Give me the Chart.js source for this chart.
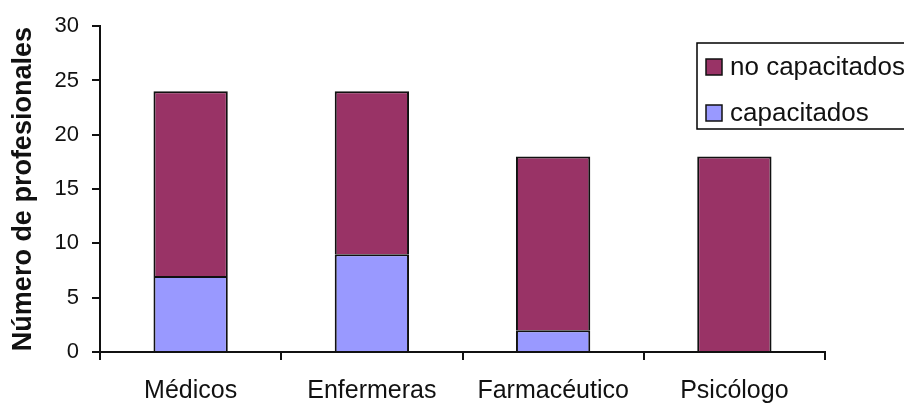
<!DOCTYPE html>
<html>
<head>
<meta charset="utf-8">
<script src="https://cdn.jsdelivr.net/npm/chart.js@4"></script>
<style>
  html, body { margin: 0; padding: 0; background: #fff; }
  #wrap { width: 904px; height: 403px; position: relative; }
</style>
</head>
<body>
<div id="wrap"><canvas id="c"></canvas></div>
<script>
// Staff by profession, split by training status
const categories = ['Médicos', 'Enfermeras', 'Farmacéutico', 'Psicólogo'];
const capacitados = [7, 9, 2, 0];
const noCapacitados = [17, 15, 16, 18];
const seriesLabels = ['capacitados', 'no capacitados'];
const yTicks = [0, 5, 10, 15, 20, 25, 30];
const yTitle = 'Número de profesionales';

const colCapacitados = '#9999FF';
const colNoCapacitados = '#993366';

// Boxed legend drawn in the upper right, entries in reverse stack order
const boxLegend = {
  id: 'boxLegend',
  afterDraw(chart) {
    const ctx = chart.ctx;
    const ds = chart.data.datasets.slice().reverse();
    ctx.save();
    ctx.strokeStyle = '#000';
    ctx.lineWidth = 1.5;
    ctx.strokeRect(697, 43, 240, 86);
    ctx.font = '26px "Liberation Sans", Arial, sans-serif';
    ctx.textBaseline = 'alphabetic';
    ctx.textAlign = 'left';
    ds.forEach((d, i) => {
      const y = 59 + i * 46;
      ctx.fillStyle = d.backgroundColor;
      ctx.fillRect(706, y, 16, 16);
      ctx.strokeStyle = '#111';
      ctx.lineWidth = 1.5;
      ctx.strokeRect(706, y, 16, 16);
      ctx.fillStyle = '#111';
      ctx.fillText(d.label, 730, y + 16);
    });
    ctx.restore();
  }
};

new Chart(document.getElementById('c'), {
  type: 'bar',
  data: {
    labels: categories,
    datasets: [
      {
        label: seriesLabels[0],
        data: capacitados,
        backgroundColor: colCapacitados,
        borderColor: '#111',
        borderWidth: 2,
        borderSkipped: 'start',
        categoryPercentage: 1,
        barPercentage: 0.41
      },
      {
        label: seriesLabels[1],
        data: noCapacitados,
        backgroundColor: colNoCapacitados,
        borderColor: '#111',
        borderWidth: 2,
        borderSkipped: 'start',
        categoryPercentage: 1,
        barPercentage: 0.41
      }
    ]
  },
  options: {
    responsive: true,
    maintainAspectRatio: false,
    animation: false,
    layout: { padding: { top: 26, right: 79, left: 0, bottom: 0 } },
    plugins: {
      legend: { display: false },
      tooltip: { enabled: false }
    },
    scales: {
      x: {
        stacked: true,
        offset: true,
        grid: {
          offset: true,
          drawOnChartArea: false,
          drawTicks: true,
          tickLength: 8,
          color: '#111',
          lineWidth: 2
        },
        border: { color: '#111', width: 2 },
        ticks: {
          color: '#111',
          padding: 16,
          maxRotation: 0,
          font: { family: '"Liberation Sans", Arial, sans-serif', size: 25 }
        },
        afterFit(scale) { scale.height = 51; }
      },
      y: {
        stacked: true,
        min: 0,
        max: 30,
        afterBuildTicks(scale) { scale.ticks = yTicks.map(v => ({ value: v })); },
        grid: {
          drawOnChartArea: false,
          drawTicks: true,
          tickLength: 8,
          color: '#111',
          lineWidth: 2
        },
        border: { color: '#111', width: 2 },
        ticks: {
          color: '#111',
          padding: 13,
          font: { family: '"Liberation Sans", Arial, sans-serif', size: 22 }
        },
        title: {
          display: true,
          text: yTitle,
          color: '#111',
          padding: { top: 7, bottom: 0 },
          font: { family: '"Liberation Sans", Arial, sans-serif', size: 27, weight: 'bold' }
        },
        afterFit(scale) { scale.width = 100; }
      }
    }
  },
  plugins: [boxLegend]
});
</script>
</body>
</html>
